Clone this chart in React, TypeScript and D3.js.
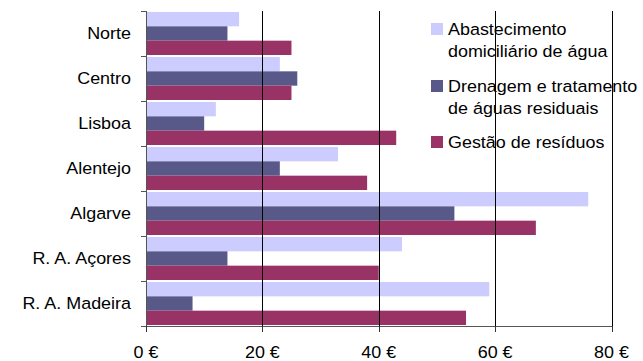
import React from "react";
import * as d3 from "d3";

// Regions (top to bottom)
const regions = ["Norte", "Centro", "Lisboa", "Alentejo", "Algarve", "R. A. Açores", "R. A. Madeira"];

// Average cost per service, in euros
const abastecimento = [16, 23, 12, 33, 76, 44, 59];
const drenagem = [14, 26, 10, 23, 53, 14, 8];
const residuos = [25, 25, 43, 38, 67, 40, 55];

const seriesNames = [
  ["Abastecimento", "domiciliário de água"],
  ["Drenagem e tratamento", "de águas residuais"],
  ["Gestão de resíduos"],
];
const seriesValues = [abastecimento, drenagem, residuos];
const seriesColors = ["#CCCCFF", "#595989", "#993366"];

const xTicks = [0, 20, 40, 60, 80];

const W = 643;
const H = 361;
const FONT = "'Liberation Sans', Arial, sans-serif";
const FS = 16.3;
const SX = 1.1;

export default function App() {
  const x = d3.scaleLinear().domain([0, 80]).range([146, 611.5]);
  const y = d3.scaleBand<string>().domain(regions).range([11, 326]).padding(0);
  const sub = d3
    .scaleBand<number>()
    .domain(d3.range(seriesValues.length))
    .range([1, y.bandwidth() - 1])
    .padding(0);

  const top = 11;
  const bottom = 326;

  const label = (
    key: string,
    tx: number,
    ty: number,
    text: string,
    anchor: "start" | "middle" | "end"
  ) => (
    <text
      key={key}
      transform={`translate(${tx},${ty}) scale(${SX},1)`}
      textAnchor={anchor}
      fontFamily={FONT}
      fontSize={FS}
      fill="#000"
    >
      {text}
    </text>
  );

  const legendBaselines = [35, 92, 148];

  return (
    <svg
      width={W}
      height={H}
      style={{ position: "absolute", left: 0, top: 0, background: "#fff" }}
    >
      {/* bars */}
      {regions.map((r, ri) =>
        seriesValues.map((vals, si) => (
          <rect
            key={`${r}-${si}`}
            x={x(0)}
            y={(y(r) as number) + (sub(si) as number)}
            width={x(vals[ri]) - x(0)}
            height={sub.bandwidth()}
            fill={seriesColors[si]}
          />
        ))
      )}

      {/* vertical gridlines */}
      {xTicks.slice(1).map((t) => (
        <line
          key={`g${t}`}
          x1={Math.round(x(t)) + 0.5}
          x2={Math.round(x(t)) + 0.5}
          y1={top}
          y2={bottom}
          stroke="#000"
          strokeWidth={1}
        />
      ))}

      {/* left axis */}
      <line x1={146.5} x2={146.5} y1={top} y2={bottom} stroke="#555" />
      {[...regions.map((r) => y(r) as number), bottom].map((v, i) => (
        <line key={`yt${i}`} x1={141} x2={146} y1={Math.round(v) + 0.5} y2={Math.round(v) + 0.5} stroke="#555" />
      ))}

      {/* bottom axis */}
      <line x1={146} x2={612} y1={bottom + 0.5} y2={bottom + 0.5} stroke="#555" />
      {xTicks.map((t) => (
        <line
          key={`xt${t}`}
          x1={Math.round(x(t)) + 0.5}
          x2={Math.round(x(t)) + 0.5}
          y1={bottom}
          y2={bottom + 6}
          stroke="#333"
        />
      ))}

      {/* tick labels */}
      {xTicks.map((t) => label(`xl${t}`, x(t), 358, `${t} €`, "middle"))}
      {regions.map((r) =>
        label(`yl${r}`, 131, (y(r) as number) + y.bandwidth() / 2 + 5.8, r, "end")
      )}

      {/* legend */}
      {seriesNames.map((lines, si) => (
        <g key={`lg${si}`}>
          <rect
            x={431}
            y={legendBaselines[si] - 12}
            width={12}
            height={12}
            fill={seriesColors[si]}
          />
          {lines.map((ln, li) =>
            label(`lt${si}-${li}`, 448, legendBaselines[si] + li * 22, ln, "start")
          )}
        </g>
      ))}
    </svg>
  );
}
